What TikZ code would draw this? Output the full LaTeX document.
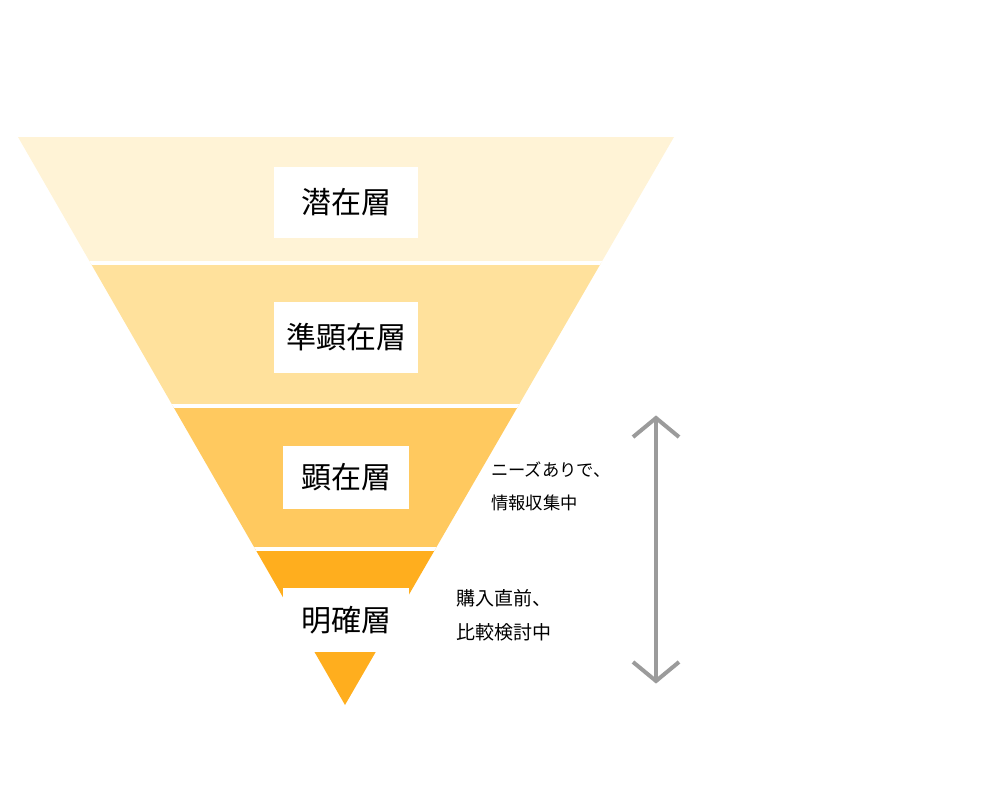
\documentclass[tikz,border=0pt]{standalone}
\usepackage{fontspec}
\setmainfont{Noto Sans CJK JP}
\definecolor{bandA}{HTML}{FFF3D6}
\definecolor{bandB}{HTML}{FFE19C}
\definecolor{bandC}{HTML}{FFC95F}
\definecolor{bandD}{HTML}{FFAE1E}
\definecolor{arrowgray}{HTML}{9B9B9B}
\tikzset{
  labelbox/.style={fill=white, inner sep=0pt, font=\fontsize{30}{30}\selectfont, text=black},
  sidetext/.style={anchor=west, inner sep=0pt, text=black},
  grayline/.style={draw=arrowgray, line width=4pt},
}
\begin{document}
\begin{tikzpicture}[x=1pt,y=-1pt]
\useasboundingbox (0,0) rectangle (1000,800);
\begin{scope}
  \clip (18,137) -- (674,137) -- (345,705) -- cycle;
  \fill[bandA] (0,130) rectangle (700,263);
  \fill[bandB] (0,263) rectangle (700,405.5);
  \fill[bandC] (0,405.5) rectangle (700,549);
  \fill[bandD] (0,549) rectangle (700,710);
  \draw[white, line width=4pt] (0,263) -- (700,263);
  \draw[white, line width=4pt] (0,405.5) -- (700,405.5);
  \draw[white, line width=4pt] (0,549) -- (700,549);
\end{scope}
\node[labelbox, minimum width=144pt, minimum height=71pt] (l1) at (346,202.5) {潜在層};
\node[labelbox, minimum width=144pt, minimum height=71pt] (l2) at (346,337.5) {準顕在層};
\node[labelbox, minimum width=126pt, minimum height=63pt] (l3) at (346,477.5) {顕在層};
\node[labelbox, minimum width=126pt, minimum height=64pt] (l4) at (346,620) {明確層};
\node[sidetext, font=\fontsize{17.3}{17.3}\selectfont] (t1) at (491,470) {ニーズありで、};
\node[sidetext, font=\fontsize{17.3}{17.3}\selectfont] (t2) at (491,503) {情報収集中};
\node[sidetext, font=\fontsize{19}{19}\selectfont] (t3) at (456,598) {購入直前、};
\node[sidetext, font=\fontsize{19}{19}\selectfont] (t4) at (456,632) {比較検討中};
\coordinate (atop) at (656,418);
\coordinate (abot) at (656,681);
\draw[grayline] (atop) -- (abot);
\draw[grayline, line join=miter] ([shift={(-23,19)}]atop) -- (atop) -- ([shift={(23,19)}]atop);
\draw[grayline, line join=miter] ([shift={(-23,-19)}]abot) -- (abot) -- ([shift={(23,-19)}]abot);
\end{tikzpicture}
\end{document}
